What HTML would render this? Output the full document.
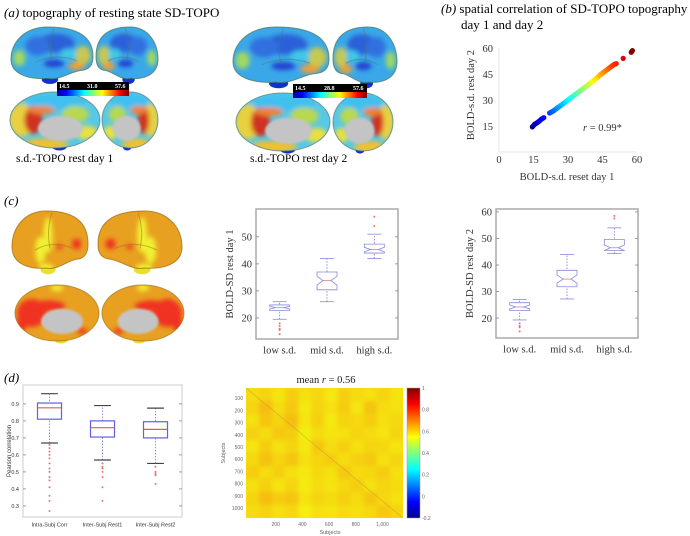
<!DOCTYPE html>
<html><head><meta charset="utf-8">
<style>
body{margin:0;background:#fff;}
svg{display:block;font-family:"Liberation Serif",serif;}
.sans{font-family:"Liberation Sans",sans-serif;}
</style></head>
<body>
<svg id="fig" width="690" height="536" viewBox="0 0 690 536" xmlns="http://www.w3.org/2000/svg">
<defs>
  <filter id="blur" x="-20%" y="-20%" width="140%" height="140%"><feGaussianBlur stdDeviation="2.5"/></filter>
  <filter id="blur1"><feGaussianBlur stdDeviation="1"/></filter>
  <filter id="blur3"><feGaussianBlur stdDeviation="2.2"/></filter>
  <linearGradient id="jet" x1="0" x2="1" y1="0" y2="0">
    <stop offset="0" stop-color="#00008f"/><stop offset="0.125" stop-color="#0000ff"/>
    <stop offset="0.375" stop-color="#00ffff"/><stop offset="0.625" stop-color="#ffff00"/>
    <stop offset="0.875" stop-color="#ff0000"/><stop offset="1" stop-color="#800000"/>
  </linearGradient>
  <linearGradient id="jetv" x1="0" x2="0" y1="1" y2="0">
    <stop offset="0" stop-color="#00008f"/><stop offset="0.125" stop-color="#0000ff"/>
    <stop offset="0.375" stop-color="#00ffff"/><stop offset="0.625" stop-color="#ffff00"/>
    <stop offset="0.875" stop-color="#ff0000"/><stop offset="1" stop-color="#800000"/>
  </linearGradient>
  <clipPath id="hmclip"><rect x="246" y="388" width="157" height="130"/></clipPath>
</defs>

<text x="4" y="17" font-size="13"><tspan font-style="italic">(a)</tspan>  topography of resting state SD-TOPO</text>
<text x="441" y="13" font-size="13"><tspan font-style="italic">(b)</tspan>  spatial correlation of SD-TOPO topography on</text>
<text x="461" y="29" font-size="13">day 1 and day 2</text>
<text x="4" y="205" font-size="13" font-style="italic">(c)</text>
<text x="4" y="382" font-size="13" font-style="italic">(d)</text>

<g id="brainsA"></g>
<g id="brainsC"></g>
<text x="16" y="162" font-size="11.5">s.d.-TOPO rest day 1</text>
<text x="250" y="162" font-size="11.5">s.d.-TOPO rest day 2</text>

<g id="scatter"></g>
<g id="box1"></g>
<g id="box2"></g>
<g id="box3"></g>
<g id="heat"></g>
</svg>
<script>
// ---------- data ----------
var scatterX = [14.5,15.5,16.5,17.5,18.5,19.5,22,23,24,25,26,27,28,29,30,31,32,33,34,35,36,37,38,39,40,41,42,43,44,45,46,47,48,49,50,51,54,57.5,58];
var scatterY = [14.5,16,16.8,17.8,19,19.8,22.5,23.2,24,25,26,27,28,29,30,31,32,33,34,35,36,37,38,39,40,41,42.2,43.2,44.5,45.5,46.5,47.5,48.5,49.5,50.5,51,54,57.5,58.5];
var scatterTicks = [0,15,30,45,60];
var boxCats = ["low s.d.","mid s.d.","high s.d."];
var day1Stats = [[19.5,22.8,23.8,24.8,26],[26,30.4,33.8,37,42],[42,44,45.3,47.3,51]];
var day1Out = [[18,17,16,15.5,14],[],[54,57.5]];
var day1Ticks = [20,30,40,50];
var day2Stats = [[19.3,22.8,24.2,25.8,27],[27.2,31.8,34.7,38,44],[44.3,45.5,46.5,49.6,54]];
var day2Out = [[18,17,16.5,15],[],[57.5,58.5]];
var day2Ticks = [20,30,40,50,60];
var corrCats = ["Intra-Subj Corr","Inter-Subj Rest1","Inter-Subj Rest2"];
var corrStats = [[0.67,0.81,0.877,0.905,0.96],[0.57,0.705,0.76,0.80,0.89],[0.55,0.70,0.75,0.795,0.875]];
var corrOut = [[0.66,0.64,0.62,0.6,0.58,0.55,0.52,0.5,0.47,0.45,0.41,0.36,0.33,0.27],[0.55,0.53,0.52,0.5,0.47,0.41,0.33],[0.53,0.5,0.49,0.48,0.43]];
var corrTicks = [0.3,0.4,0.5,0.6,0.7,0.8,0.9];
var heatRows = [
 [0.58,0.60,0.56,0.62,0.57,0.59,0.55,0.61,0.58,0.57,0.60,0.56],
 [0.60,0.66,0.58,0.63,0.55,0.60,0.57,0.62,0.56,0.64,0.58,0.57],
 [0.57,0.64,0.60,0.66,0.56,0.61,0.55,0.60,0.59,0.62,0.57,0.59],
 [0.61,0.58,0.63,0.62,0.52,0.58,0.56,0.57,0.60,0.58,0.56,0.60],
 [0.56,0.62,0.57,0.60,0.55,0.63,0.58,0.61,0.57,0.60,0.59,0.56],
 [0.59,0.65,0.60,0.64,0.57,0.60,0.62,0.58,0.61,0.63,0.57,0.60],
 [0.62,0.58,0.61,0.57,0.55,0.59,0.57,0.63,0.58,0.59,0.62,0.57],
 [0.57,0.61,0.56,0.60,0.54,0.58,0.56,0.59,0.62,0.57,0.60,0.58],
 [0.60,0.66,0.62,0.64,0.56,0.60,0.58,0.61,0.58,0.64,0.59,0.57],
 [0.58,0.60,0.57,0.59,0.53,0.57,0.56,0.58,0.57,0.59,0.63,0.60]];
var heatXTicks = [200,400,600,800,1000];
var heatYTicks = [100,200,300,400,500,600,700,800,900,1000];
var cbTicks = [-0.2,0,0.2,0.4,0.6,0.8,1];

var NS = "http://www.w3.org/2000/svg";
function mk(tag, attrs, parent){var e=document.createElementNS(NS,tag);for(var k in attrs)e.setAttribute(k,attrs[k]);if(parent)parent.appendChild(e);return e;}
function jet(t){t=Math.max(0,Math.min(1,t));
 var r=Math.min(4*t-1.5,-4*t+4.5),g=Math.min(4*t-0.5,-4*t+3.5),b=Math.min(4*t+0.5,-4*t+2.5);
 function c(v){return Math.round(255*Math.max(0,Math.min(1,v)));}
 return "rgb("+c(r)+","+c(g)+","+c(b)+")";}

// ---------- brains ----------
function beanPath(cx,cy,rx,ry,s){
  // lateral hemisphere outline (front at -s side)
  var p=[];
  p.push("M"+(cx-s*rx)+" "+(cy+ry*0.1));
  p.push("C"+(cx-s*rx)+" "+(cy-ry*0.9)+" "+(cx-s*rx*0.3)+" "+(cy-ry)+" "+(cx+s*rx*0.1)+" "+(cy-ry));
  p.push("C"+(cx+s*rx*0.7)+" "+(cy-ry)+" "+(cx+s*rx)+" "+(cy-ry*0.4)+" "+(cx+s*rx)+" "+(cy+ry*0.2));
  p.push("C"+(cx+s*rx)+" "+(cy+ry*0.8)+" "+(cx+s*rx*0.5)+" "+(cy+ry*0.95)+" "+(cx+s*rx*0.1)+" "+(cy+ry*0.9));
  p.push("C"+(cx-s*rx*0.2)+" "+(cy+ry)+" "+(cx-s*rx*0.5)+" "+(cy+ry*0.6)+" "+(cx-s*rx*0.75)+" "+(cy+ry*0.6));
  p.push("C"+(cx-s*rx*0.95)+" "+(cy+ry*0.55)+" "+(cx-s*rx)+" "+(cy+ry*0.35)+" "+(cx-s*rx)+" "+(cy+ry*0.1)+"Z");
  return p.join(" ");
}
function lateral(g, cx, cy, rx, ry, flip, pal){
  var s=flip?1:-1;
  var bg = mk("g",{},g);
  
  
  mk("ellipse",{cx:cx+s*rx*0.05,cy:cy+ry*0.95,rx:rx*0.2,ry:ry*0.16,fill:pal.pole},bg);
  var clipId="c"+Math.round(cx)+"_"+Math.round(cy);
  var cp=mk("clipPath",{id:clipId},bg);
  var d=beanPath(cx,cy,rx,ry,s);
  mk("path",{d:d},cp);
  var inner=mk("g",{"clip-path":"url(#"+clipId+")"},bg);
  mk("path",{d:d,fill:pal.base},inner);
  var f=mk("g",{filter:"url(#blur)"},inner);
  pal.spots.forEach(function(p){mk("ellipse",{cx:cx-s*p[0]*rx,cy:cy+p[1]*ry,rx:p[2]*rx,ry:p[3]*ry,fill:p[4]},f);});
  mk("path",{d:"M"+(cx-s*rx*0.05)+" "+(cy-ry*0.95)+" q"+(s*rx*0.15)+" "+(ry*0.6)+" "+(s*rx*0.05)+" "+(ry*1.2),stroke:pal.edge,"stroke-width":1,fill:"none",opacity:0.5},inner);
  mk("path",{d:"M"+(cx-s*rx*0.6)+" "+(cy+ry*0.25)+" q"+(s*rx*0.5)+" "+(-ry*0.3)+" "+(s*rx*1.0)+" "+(ry*0.05),stroke:pal.edge,"stroke-width":1,fill:"none",opacity:0.5},inner);
  mk("path",{d:d,fill:"none",stroke:pal.edge,"stroke-width":1,opacity:0.8},bg);
}
function medial(g, cx, cy, rx, ry, flip, pal){
  var s=flip?-1:1;
  var bg = mk("g",{},g);
  
  
  mk("ellipse",{cx:cx+s*rx*0.1,cy:cy+ry*0.95,rx:rx*0.16,ry:ry*0.14,fill:pal.pole},bg);
  var clipId="m"+Math.round(cx)+"_"+Math.round(cy);
  var cp=mk("clipPath",{id:clipId},bg);
  mk("ellipse",{cx:cx,cy:cy,rx:rx,ry:ry},cp);
  var inner=mk("g",{"clip-path":"url(#"+clipId+")"},bg);
  mk("ellipse",{cx:cx,cy:cy,rx:rx,ry:ry,fill:pal.mbase},inner);
  var f=mk("g",{filter:"url(#blur)"},inner);
  pal.mspots.forEach(function(p){mk("ellipse",{cx:cx+s*p[0]*rx,cy:cy+p[1]*ry,rx:p[2]*rx,ry:p[3]*ry,fill:p[4]},f);});
  mk("ellipse",{cx:cx+s*rx*0.12,cy:cy+ry*0.3,rx:rx*0.5,ry:ry*0.45,fill:"#c4c4c4",filter:"url(#blur1)"},inner);
  mk("ellipse",{cx:cx,cy:cy,rx:rx,ry:ry,fill:"none",stroke:pal.edge,"stroke-width":1,opacity:0.7},bg);
}
var palA = {base:"#3aa8e8",mbase:"#58c8e8",edge:"#4a7a6a",pole:"#1530d0",
  spots:[[0.1,-0.4,0.45,0.35,"#2a60d8"],[-0.35,-0.3,0.3,0.35,"#3070e0"],[0.75,0.05,0.2,0.35,"#c8c850"],[0.6,0.45,0.2,0.15,"#f0a030"],[-0.8,0.15,0.15,0.3,"#a0d860"],[0.05,0.35,0.25,0.14,"#2040d0"],[0.4,0.0,0.2,0.2,"#40c8e8"]],
  mspots:[[0,-0.65,0.7,0.3,"#40c0f0"],[-0.75,0.0,0.28,0.6,"#e8d040"],[-0.48,0.0,0.2,0.5,"#d03020"],[0.45,-0.2,0.3,0.3,"#b8d850"],[0.7,0.45,0.25,0.25,"#e8e040"],[-0.2,0.85,0.5,0.2,"#f0c030"],[-0.3,-0.35,0.3,0.15,"#f08030"]]};
var palC = {base:"#e8a020",mbase:"#e8a020",edge:"#a07010",pole:"#e8e030",
  spots:[[-0.05,-0.2,0.12,0.6,"#f0f030"],[-0.25,0.3,0.14,0.45,"#f0f030"],[0.7,0.1,0.12,0.18,"#f03020"],[-0.1,0.9,0.2,0.15,"#f0f030"],[0.25,0.2,0.1,0.07,"#f03020"]],
  mspots:[[-0.6,0.0,0.35,0.5,"#f03020"],[-0.2,-0.25,0.4,0.2,"#f03020"],[0.0,-0.9,0.15,0.12,"#f0f030"],[0.6,0.65,0.12,0.1,"#f03020"],[-0.85,0.4,0.12,0.3,"#f03020"]]};
var gA=document.getElementById("brainsA");
// day 1
lateral(gA,52,54,41,27,false,palA);
lateral(gA,127,54,31,27,true,palA);
medial(gA,55,120,45,28,false,palA);
medial(gA,130,120,28,28,true,palA);
// day 2
lateral(gA,281,56,48,29,false,palA);
lateral(gA,365,56,32,29,true,palA);
medial(gA,283,122,47,29,false,palA);
medial(gA,363,122,30,29,true,palA);
[[57,82,72,"14.5","31.0","57.6"],[293,84,74,"14.5","28.8","57.6"]].forEach(function(c,i){
  var cb=mk("g",{},gA);
  
  
  mk("rect",{x:c[0],y:c[1],width:c[2],height:8,fill:"#000"},cb);
  mk("rect",{x:c[0],y:c[1]+8,width:c[2],height:6,fill:"url(#jet)"},cb);
  [c[3],c[4],c[5]].forEach(function(l,j){var t=mk("text",{x:c[0]+2+j*(c[2]-16)/2,y:c[1]+6,"font-size":6,fill:"#fff","font-weight":"bold"},cb);t.textContent=l;});
});
var gC=document.getElementById("brainsC");
lateral(gC,50,241,38,30,false,palC);
lateral(gC,140,241,42,30,true,palC);
medial(gC,57,313,42,28,false,palC);
medial(gC,143,313,41,28,true,palC);

// ---------- scatter ----------
(function(){
  var g=document.getElementById("scatter");
  function sx(v){return 499+v*(138/60);} function sy(v){return 152-v*(104/60);}
  var ax=mk("line",{x1:sx(0),y1:sy(60),x2:sx(0),y2:sy(0),stroke:"#e4e4e4","stroke-width":1},g);
  
  var ax2=mk("line",{x1:sx(0),y1:sy(0),x2:sx(60),y2:sy(0),stroke:"#e4e4e4","stroke-width":1},g);
  
  scatterTicks.forEach(function(t){
    var a=mk("text",{x:sx(t),y:163,"font-size":10.5,"text-anchor":"middle",fill:"#333"},g);a.textContent=t;
    
    if(t>0){var b=mk("text",{x:sx(0)-6,y:sy(t)+4,"font-size":10.5,"text-anchor":"end",fill:"#333"},g);b.textContent=t;
    }
  });
  for(var i=0;i<scatterX.length;i++){
    var c=mk("circle",{cx:sx(scatterX[i]),cy:sy(scatterY[i]),r:2.6,fill:jet((scatterY[i]-14)/44)},g);
    
    if(i>0&&scatterX[i]-scatterX[i-1]<1.5){
      var l=mk("line",{x1:sx(scatterX[i-1]),y1:sy(scatterY[i-1]),x2:sx(scatterX[i]),y2:sy(scatterY[i]),stroke:jet((scatterY[i]-14)/44),"stroke-width":5},g);
      
    }
  }
  var r=mk("text",{x:583,y:131,"font-size":10.5,fill:"#333"},g);r.innerHTML='<tspan font-style="italic">r</tspan> = 0.99*';
  
  var xl=mk("text",{x:567,y:180,"font-size":10.5,"text-anchor":"middle",fill:"#333"},g);xl.textContent="BOLD-s.d. reset day 1";
  
  var yl=mk("text",{x:0,y:0,"font-size":10.5,"text-anchor":"middle",fill:"#333",transform:"translate(474,95) rotate(-90)"},g);yl.textContent="BOLD-s.d. rest day 2";
  
})();

// ---------- boxplots ----------
function boxplot(g, opt){
  var L=opt.x0,R=opt.x1,T=opt.y0,B=opt.y1;
  function sy(v){return B-(v-opt.vmin)/(opt.vmax-opt.vmin)*(B-T);}
  function sx(i){return L+(i+0.5)/opt.cats.length*(R-L);}
  var fr=mk("rect",{x:L,y:T,width:R-L,height:B-T,fill:"none",stroke:opt.frame,"stroke-width":opt.fw},g);
  
  opt.ticks.forEach(function(t){
    var y=sy(t);
    mk("line",{x1:L,x2:L+3,y1:y,y2:y,stroke:"#888","stroke-width":0.8},g);
    mk("line",{x1:R,x2:R-3,y1:y,y2:y,stroke:"#888","stroke-width":0.8},g);
    var tx=mk("text",{x:L-4,y:y+opt.fs*0.35,"font-size":opt.fs,"text-anchor":"end",fill:"#333"},g);
    tx.textContent=opt.fmt?opt.fmt(t):t;
    
    if(opt.sans)tx.setAttribute("class","sans");
  });
  opt.cats.forEach(function(c,i){
    var x=sx(i),s=opt.stats[i],w=opt.bw;
    var bg=mk("g",{},g);
    
    mk("line",{x1:x,x2:x,y1:sy(s[0]),y2:sy(s[4]),stroke:"#7777cc","stroke-width":0.8,"stroke-dasharray":"1.5,1.5"},bg);
    mk("line",{x1:x-w*0.35,x2:x+w*0.35,y1:sy(s[0]),y2:sy(s[0]),stroke:opt.whisk,"stroke-width":opt.lw},bg);
    mk("line",{x1:x-w*0.35,x2:x+w*0.35,y1:sy(s[4]),y2:sy(s[4]),stroke:opt.whisk,"stroke-width":opt.lw},bg);
    if(opt.notch){
      var n=w*0.3,d=(s[3]-s[1])*0.25;
      var p="M"+(x-w/2)+" "+sy(s[1])+" L"+(x-w/2)+" "+sy(s[2]-d)+" L"+(x-w/2+n)+" "+sy(s[2])+" L"+(x-w/2)+" "+sy(s[2]+d)+" L"+(x-w/2)+" "+sy(s[3])+" L"+(x+w/2)+" "+sy(s[3])+" L"+(x+w/2)+" "+sy(s[2]+d)+" L"+(x+w/2-n)+" "+sy(s[2])+" L"+(x+w/2)+" "+sy(s[2]-d)+" L"+(x+w/2)+" "+sy(s[1])+" Z";
      mk("path",{d:p,fill:"#fff",stroke:"#8888dd","stroke-width":opt.lw},bg);
      mk("line",{x1:x-w/2+n,x2:x+w/2-n,y1:sy(s[2]),y2:sy(s[2]),stroke:"#e08080","stroke-width":0.8},bg);
    } else {
      mk("rect",{x:x-w/2,y:sy(s[3]),width:w,height:sy(s[1])-sy(s[3]),fill:"#fff",stroke:"#6060e0","stroke-width":opt.lw},bg);
      mk("line",{x1:x-w/2,x2:x+w/2,y1:sy(s[2]),y2:sy(s[2]),stroke:"#e06040","stroke-width":1.2},bg);
    }
    opt.out[i].forEach(function(o){
      var oc=mk("circle",{cx:x,cy:sy(o),r:opt.or,fill:"#e05050",opacity:0.8},bg);
      
    });
    var cl=mk("text",{x:x,y:B+opt.fs+4,"font-size":opt.fs,"text-anchor":"middle",fill:"#333"},g);
    cl.textContent=c;
    if(opt.sans)cl.setAttribute("class","sans");
  });
  var yl=mk("text",{x:0,y:0,"font-size":opt.tfs,"text-anchor":"middle",fill:"#333",transform:"translate("+opt.ytx+","+((T+B)/2)+") rotate(-90)"},g);
  yl.textContent=opt.ytitle;
  if(opt.sans)yl.setAttribute("class","sans");
}
boxplot(document.getElementById("box1"),{x0:256,x1:398,y0:209,y1:339,vmin:12.2,vmax:60.3,cats:boxCats,stats:day1Stats,out:day1Out,ticks:day1Ticks,bw:20,notch:true,fs:10.5,tfs:10.5,lw:0.8,or:1,whisk:"#8888dd",frame:"#aaa",fw:1.5,ytitle:"BOLD-SD rest day 1",ytx:233});
boxplot(document.getElementById("box2"),{x0:496,x1:638,y0:209,y1:338,vmin:12.5,vmax:61.1,cats:boxCats,stats:day2Stats,out:day2Out,ticks:day2Ticks,bw:20,notch:true,fs:10.5,tfs:10.5,lw:0.8,or:1,whisk:"#8888dd",frame:"#aaa",fw:1.5,ytitle:"BOLD-SD rest day 2",ytx:473});
boxplot(document.getElementById("box3"),{x0:23,x1:182,y0:385,y1:517,vmin:0.235,vmax:1.011,cats:corrCats,stats:corrStats,out:corrOut,ticks:corrTicks,bw:24,notch:false,fs:5.5,tfs:6,lw:1.2,or:1,whisk:"#444",frame:"#ccc",fw:1,sans:true,fmt:function(t){return t.toFixed(1);},ytitle:"Pearson correlation",ytx:11});

// ---------- heatmap ----------
(function(){
  var g=document.getElementById("heat");
  var L=246,T=388,W=157,H=130;
  var nr=heatRows.length,nc=heatRows[0].length;
  function cmap(v){return jet((0.58+(v-0.58)*0.6+0.2)/1.2);}
  var cg=mk("g",{"clip-path":"url(#hmclip)"},g);
  var bl=mk("g",{filter:"url(#blur3)"},cg);
  mk("rect",{x:L-5,y:T-5,width:W+10,height:H+10,fill:cmap(0.58)},bl);
  for(var r=0;r<nr;r++)for(var c=0;c<nc;c++){
    var cell=mk("rect",{x:L+c*W/nc,y:T+r*H/nr,width:W/nc+0.5,height:H/nr+0.5,fill:cmap(heatRows[r][c])},bl);
    
  }
  mk("rect",{x:L,y:T,width:W,height:H,fill:"#d8c040",opacity:0.25},cg);
  mk("line",{x1:L,y1:T,x2:L+W,y2:T+H,stroke:"#b89040","stroke-width":0.8,opacity:0.5},g);
  function hx(v){return 249+v*0.1335;} function hy(v){return 386+v*0.122;}
  heatXTicks.forEach(function(t){var a=mk("text",{x:hx(t),y:526,"font-size":5,"text-anchor":"middle",fill:"#666",class:"sans"},g);a.textContent=t==1000?"1,000":t;
    });
  heatYTicks.forEach(function(t){var a=mk("text",{x:L-3,y:hy(t)+2,"font-size":5,"text-anchor":"end",fill:"#666",class:"sans"},g);a.textContent=t;
    });
  var xt=mk("text",{x:330,y:534,"font-size":5.5,"text-anchor":"middle",fill:"#666",class:"sans"},g);xt.textContent="Subjects";
  
  var yt=mk("text",{x:0,y:0,"font-size":5.5,"text-anchor":"middle",fill:"#666",class:"sans",transform:"translate(225,453) rotate(-90)"},g);yt.textContent="Subjects";
  
  var ti=mk("text",{x:326,y:383,"font-size":10.5,"text-anchor":"middle",fill:"#222"},g);ti.innerHTML='mean <tspan font-style="italic">r</tspan> = 0.56';
  
  var cb=mk("rect",{x:407,y:388,width:13,height:130,fill:"url(#jetv)",stroke:"#999","stroke-width":0.5},g);
  
  cbTicks.forEach(function(t){var y=518-(t+0.2)/1.2*130;var a=mk("text",{x:422,y:y+2,"font-size":5,fill:"#666",class:"sans"},g);a.textContent=t;
    });
})();
</script>
</body></html>
